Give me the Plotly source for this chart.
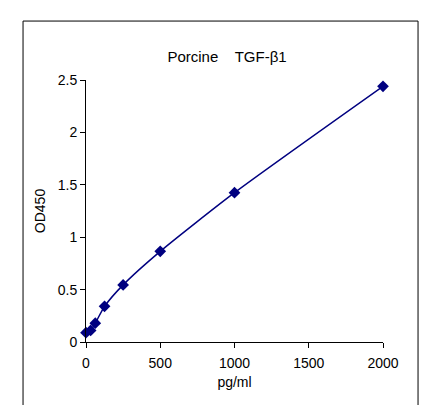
import plotly.graph_objects as go

conc = [0, 31.25, 62.5, 125, 250, 500, 1000, 2000]
od450 = [0.089, 0.11, 0.18, 0.34, 0.545, 0.865, 1.425, 2.44]

fig = go.Figure(go.Scatter(
    x=conc, y=od450, mode="lines+markers",
    line=dict(color="#000080", width=1.5, shape="spline", smoothing=0.6),
    marker=dict(symbol="diamond", size=9, color="#000080"),
    cliponaxis=False,
))

axis_style = dict(showgrid=False, zeroline=False, showline=True, linecolor="black",
                  linewidth=1, ticks="outside", ticklen=5, tickcolor="black",
                  tickfont=dict(size=14, color="black"))

fig.update_layout(
    width=438, height=405,
    margin=dict(l=78, r=63, t=72, b=71),
    paper_bgcolor="white", plot_bgcolor="white",
    font=dict(family="Liberation Sans, Arial", color="black"),
    showlegend=False,
    title=dict(text="Porcine    TGF-β1", x=0.5, xanchor="center", y=0.879, yanchor="middle",
               font=dict(size=15, color="black")),
    xaxis=dict(range=[0, 2000], tickvals=[0, 500, 1000, 1500, 2000], ticklabelstandoff=3,
               title=dict(text="pg/ml", font=dict(size=14), standoff=7), **axis_style),
    yaxis=dict(range=[0, 2.5], tickvals=[0, 0.5, 1, 1.5, 2, 2.5],
               title=dict(text="OD450", font=dict(size=14), standoff=8), **axis_style),
)

# outer frame around the chart
fig.add_shape(type="rect", xref="paper", yref="paper",
              x0=-0.212, x1=1.118, y0=-0.3, y1=1.225,
              line=dict(color="black", width=1), layer="below")

fig.write_html("out.html")
